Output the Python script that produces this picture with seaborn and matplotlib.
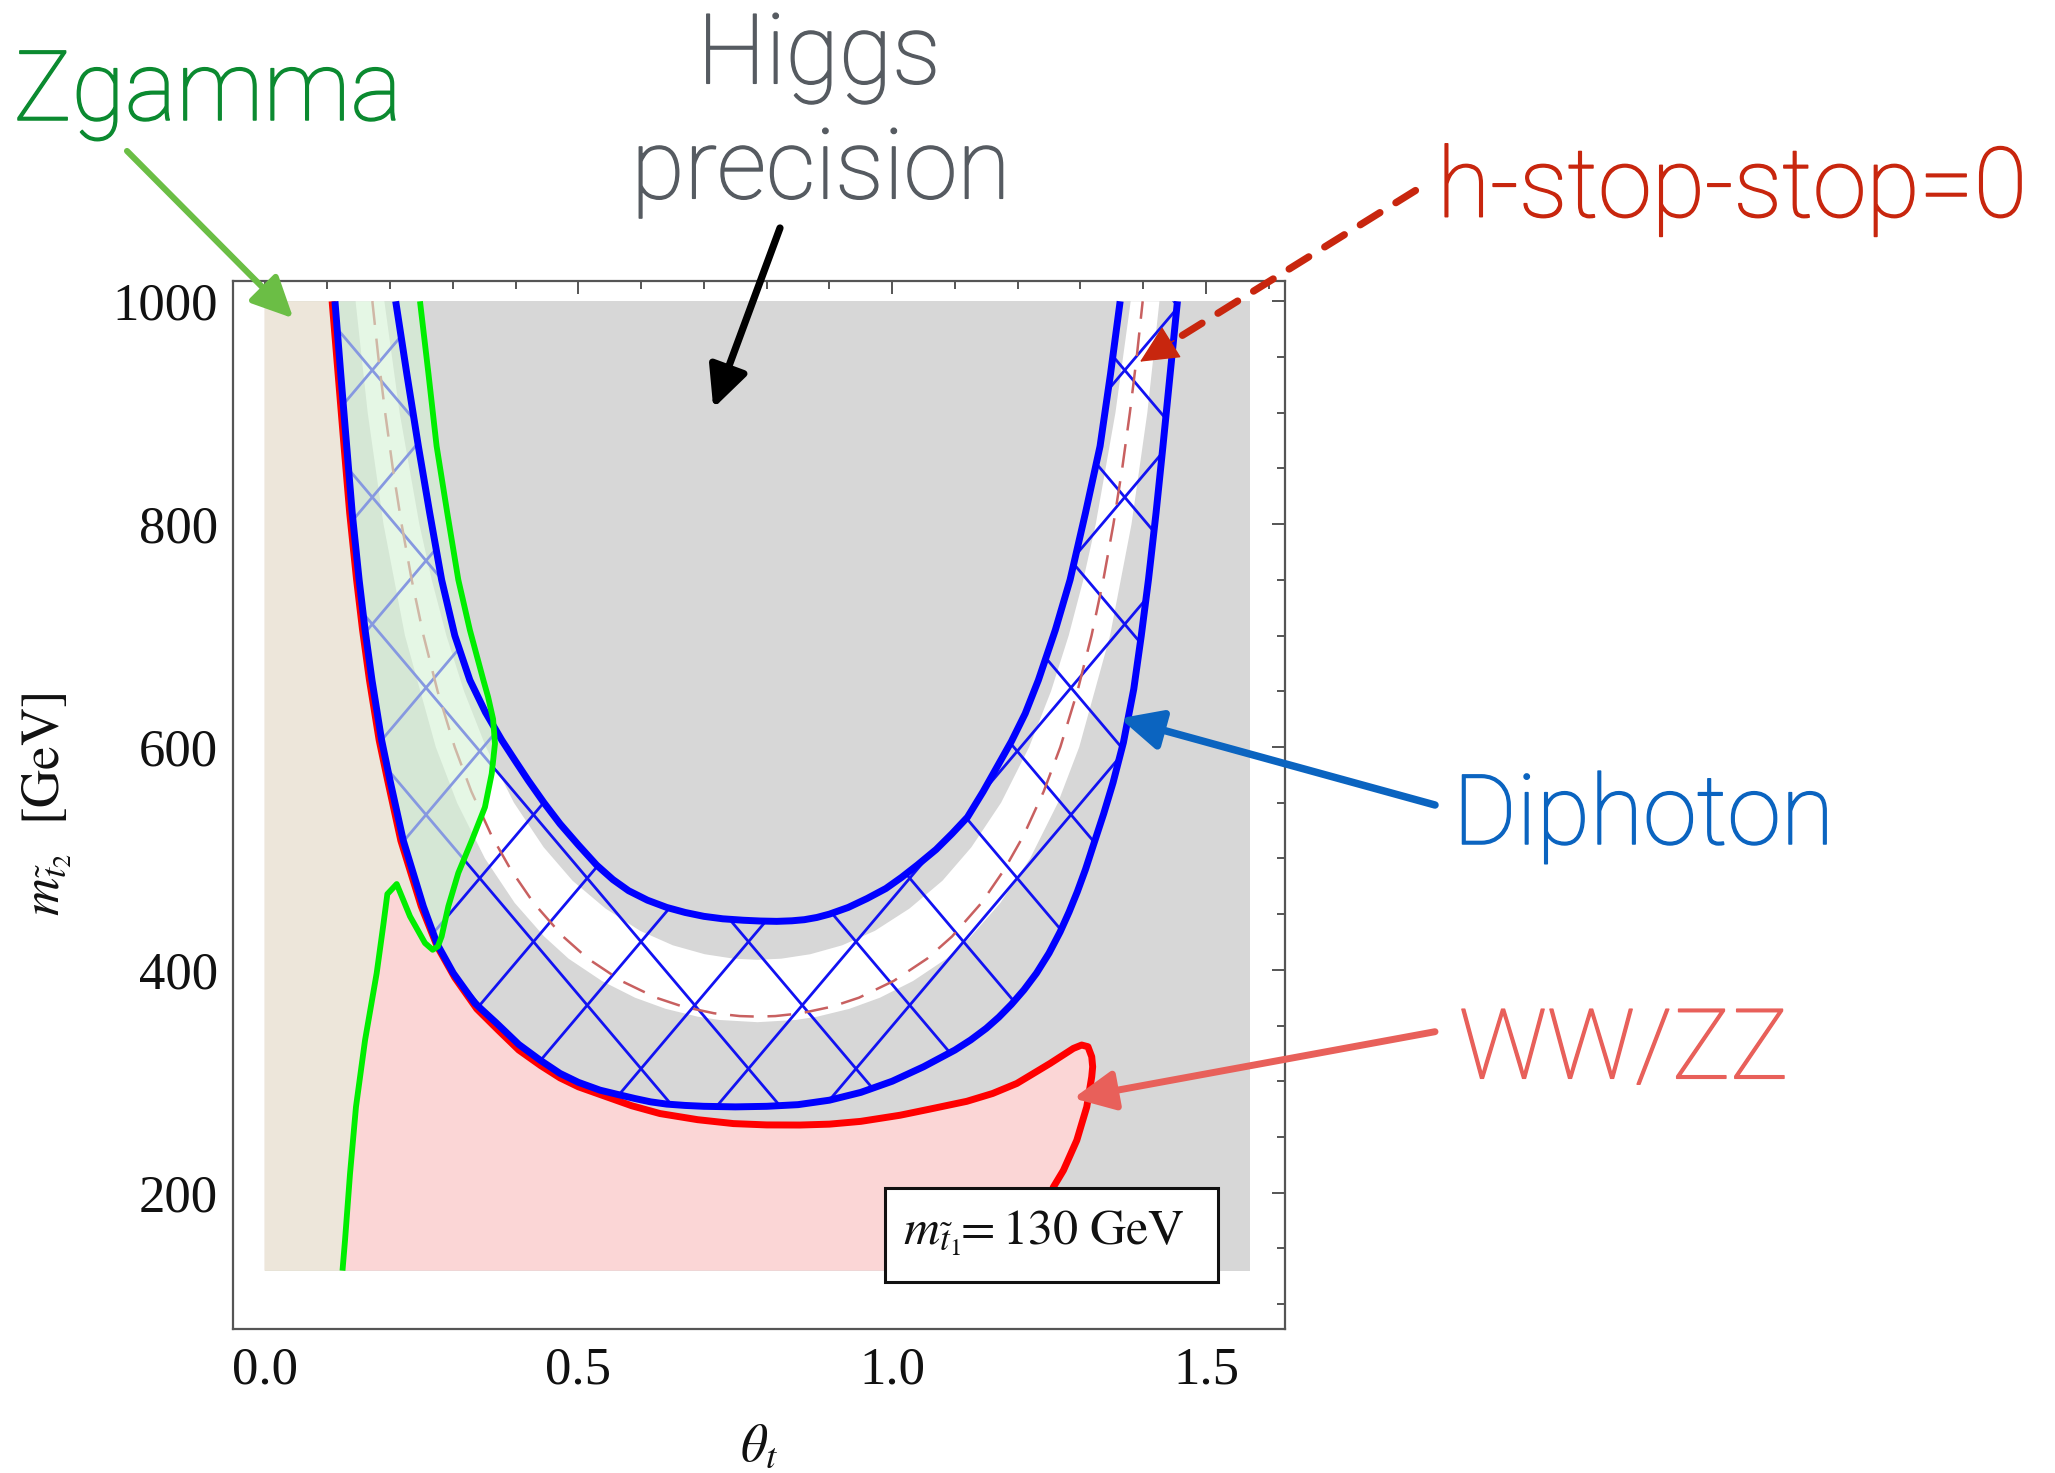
import numpy as np
import pandas as pd
import matplotlib
matplotlib.use("Agg")
import matplotlib.pyplot as plt
import matplotlib.patheffects as pe
import seaborn as sns
from matplotlib.collections import LineCollection
from matplotlib.transforms import IdentityTransform
from matplotlib.patches import Rectangle, FancyArrowPatch
from matplotlib.ticker import MultipleLocator, FixedLocator

# ---------------- data ----------------
THETA_RANGE = [0.0, 1.5708]
M_RANGE = [130, 1000]

BLUE_OUT_T = [0.112, 0.1212, 0.1307, 0.1395, 0.1505, 0.160, 0.171, 0.1864, 0.1997, 0.2209, 0.2528, 0.275,
              0.3006, 0.335, 0.3698, 0.405, 0.4388, 0.4707, 0.50, 0.5344, 0.56, 0.59, 0.615, 0.6407, 0.67,
              0.70, 0.75, 0.80, 0.85, 0.90, 0.95, 1.0, 1.05, 1.10, 1.125, 1.15, 1.17, 1.19, 1.21, 1.23,
              1.25, 1.2676, 1.282, 1.295, 1.308, 1.3207, 1.337, 1.352, 1.3685, 1.385, 1.397, 1.4084,
              1.4205, 1.4315, 1.443, 1.4546]
BLUE_OUT_M = [1000, 935, 870, 810, 750, 705, 660, 606, 570, 516, 457, 423, 397, 370, 352, 333, 319, 307,
              299, 292, 288.5, 284.5, 281.5, 279.5, 278.3, 277.5, 277, 277.5, 279, 283, 290, 300, 313, 328,
              337, 347.5, 357.5, 369, 382, 397, 415, 434, 452, 470, 490, 512, 540, 568, 604, 652, 700, 750,
              810, 870, 935, 1000]

BLUE_IN_T = [0.2088, 0.2265, 0.2449, 0.263, 0.282, 0.303, 0.327, 0.352, 0.378, 0.40, 0.42, 0.445, 0.4707,
             0.50, 0.529, 0.555, 0.58, 0.61, 0.6407, 0.67, 0.70, 0.73, 0.763, 0.79, 0.816, 0.84, 0.86,
             0.88, 0.90, 0.93, 0.96, 0.99, 1.015, 1.04, 1.07, 1.095, 1.12, 1.145, 1.17, 1.19, 1.212,
             1.233, 1.26, 1.2835, 1.308, 1.3313, 1.348, 1.3633]
BLUE_IN_M = [1000, 935, 870, 810, 750, 700, 660, 631, 606, 587, 570, 550, 531, 512, 494, 481, 471, 462.5,
             456, 451.5, 448, 445.8, 444.5, 443.8, 443.5, 444, 445, 447, 450, 456, 464, 473, 483, 494, 508,
             522, 537, 560, 585, 605, 630, 660, 705, 750, 810, 870, 935, 1000]

RED_T = [0.1075, 0.117, 0.1265, 0.1355, 0.1465, 0.156, 0.167, 0.1825, 0.196, 0.217, 0.2495, 0.275, 0.303,
         0.338, 0.372, 0.405, 0.44, 0.4707, 0.50, 0.535, 0.585, 0.63, 0.69, 0.747, 0.80, 0.853, 0.90, 0.95,
         1.0126, 1.06, 1.119, 1.16, 1.1986, 1.2517, 1.2888, 1.302, 1.312, 1.318, 1.3195, 1.318, 1.3101,
         1.2942, 1.2729, 1.2569, 1.24, 1.228, 1.218]
RED_M = [1000, 935, 870, 810, 750, 705, 660, 606, 570, 516, 457, 421, 393, 365, 346, 328, 314, 303, 295,
         288, 278, 271, 265.5, 262, 260.8, 260.7, 261.5, 264, 269.5, 275, 282, 289, 298, 316, 329.5,
         332.5, 331, 322, 313, 304, 277, 247, 220, 205, 180, 155, 130]

GREEN_T = [0.124, 0.128, 0.136, 0.1455, 0.160, 0.1785, 0.189, 0.1955, 0.2104, 0.2316, 0.2555, 0.2677,
           0.276, 0.282, 0.2927, 0.3086, 0.330, 0.351, 0.3618, 0.367, 0.364, 0.356, 0.3485, 0.327, 0.3086,
           0.291, 0.274, 0.261, 0.2475]
GREEN_M = [130, 157, 217, 277, 337, 397, 440, 468, 477, 448, 424, 418, 421, 430, 457, 487, 516, 546, 576,
           603, 625, 645, 660, 705, 750, 810, 870, 935, 1000]

DASH_T = [0.1716, 0.1811, 0.1920, 0.2042, 0.2182, 0.2343, 0.2531, 0.2756, 0.3028, 0.3294, 0.3619, 0.3921,
          0.4286, 0.4753, 0.5152, 0.5685, 0.6237, 0.6664, 0.7162, 0.7571, 0.7854, 0.8137, 0.8546, 0.9044,
          0.9471, 1.0023, 1.0556, 1.0955, 1.1422, 1.1787, 1.2089, 1.2414, 1.2680, 1.2952, 1.3177, 1.3365,
          1.3526, 1.3666, 1.3788, 1.3897, 1.3992]
DASH_M = [1000, 950, 900, 850, 800, 750, 700, 650, 600, 560, 520, 490, 460, 430, 410, 390, 375, 367, 361,
          358.5, 358, 358.5, 361, 367, 375, 390, 410, 430, 460, 490, 520, 560, 600, 650, 700, 750, 800,
          850, 900, 950, 1000]

WHITE_OUT_T = [0.1449, 0.1642, 0.1894, 0.2236, 0.2727, 0.3066, 0.3510, 0.3985, 0.4453, 0.4843, 0.5374,
               0.5902, 0.6390, 0.6898, 0.7247, 0.7854, 0.8461, 0.8810, 0.9318, 0.9806, 1.0334, 1.0865,
               1.1255, 1.1723, 1.2198, 1.2642, 1.2981, 1.3472, 1.3814, 1.4066, 1.4259]
WHITE_OUT_M = [1000, 900, 800, 700, 600, 550, 500, 460, 430, 410, 390, 375, 365, 358, 355, 353, 355, 358,
               365, 375, 390, 410, 430, 460, 500, 550, 600, 700, 800, 900, 1000]
WHITE_IN_T = [0.1907, 0.2150, 0.2464, 0.2662, 0.2895, 0.3177, 0.3525, 0.3972, 0.4446, 0.4906, 0.5432,
              0.5983, 0.6505, 0.7013, 0.7476, 0.7854, 0.8232, 0.8695, 0.9203, 0.9725, 1.0276, 1.0802,
              1.1262, 1.1736, 1.2183, 1.2531, 1.2813, 1.3046, 1.3244, 1.3558, 1.3801]
WHITE_IN_M = [1000, 900, 800, 750, 700, 650, 600, 550, 510, 480, 455, 435, 422, 414, 410, 409, 410, 414,
              422, 435, 455, 480, 510, 550, 600, 650, 700, 750, 800, 900, 1000]

X_TICKS = [0.0, 0.5, 1.0, 1.5]
X_TICK_LABELS = ["0.0", "0.5", "1.0", "1.5"]
Y_TICKS = [200, 400, 600, 800, 1000]
Y_TICK_LABELS = ["200", "400", "600", "800", "1000"]

# ---------------- style ----------------
sns.set_theme(style="white")
plt.rcParams["font.family"] = ["Liberation Serif", "DejaVu Serif"]
plt.rcParams["mathtext.fontset"] = "stix"

W, H = 2055, 1473
fig = plt.figure(figsize=(W / 100, H / 100), dpi=100)
fig.patch.set_facecolor("white")
ax = fig.add_axes([0.11353, 0.09803, 0.51177, 0.71141])
ax.set_facecolor("white")

# background regions
ax.fill_between(THETA_RANGE, M_RANGE[0], M_RANGE[1], color="#d7d7d7", lw=0, zorder=1)
ax.fill(np.r_[WHITE_OUT_T, WHITE_IN_T[::-1]], np.r_[WHITE_OUT_M, WHITE_IN_M[::-1]],
        color="white", lw=0, zorder=2)

# diphoton band (clip path for the hatch)
band = ax.fill(np.r_[BLUE_OUT_T, BLUE_IN_T[::-1]], np.r_[BLUE_OUT_M, BLUE_IN_M[::-1]],
               facecolor="none", edgecolor="none", zorder=0)[0]

# cross hatch, in pixel space
X0, Y0, P, K = 641.0, 531.3, 107.5, 1.1814
segs = []
xa, xb = 100.0, 1450.0
for n in range(-25, 25):
    xc = X0 + n * P
    segs.append([(xa, Y0 + K * (xa - xc)), (xb, Y0 + K * (xb - xc))])
    segs.append([(xa, Y0 - K * (xa - xc)), (xb, Y0 - K * (xb - xc))])
lc = LineCollection(segs, colors="#1212f2", linewidths=2.0, transform=IdentityTransform(), zorder=3)
ax.add_collection(lc, autolim=False)
lc.set_clip_path(band)

# h-stop-stop = 0 dashed
sns.lineplot(data=pd.DataFrame({"t": DASH_T, "m": DASH_M}), x="t", y="m", sort=False, estimator=None,
             color="#c86060", lw=1.8, ax=ax, zorder=3.5)
ax.lines[-1].set_dashes([9.5, 5.5])

# WW/ZZ excluded (pink)
pink = ax.fill([THETA_RANGE[0]] + RED_T + [THETA_RANGE[0]], [M_RANGE[1]] + RED_M + [M_RANGE[0]],
               color="#fbd6d6", lw=0, zorder=4)[0]

# Zgamma excluded overlay
gx = [THETA_RANGE[0]] + GREEN_T + [THETA_RANGE[0]]
gy = [M_RANGE[0]] + GREEN_M + [M_RANGE[1]]
ax.fill(gx, gy, color=(213 / 255, 243 / 255, 213 / 255), alpha=0.6, lw=0, zorder=5)
beige = ax.fill(gx, gy, color="#ede6da", lw=0, zorder=5.5)[0]
beige.set_clip_path(pink)

# boundary curves
LK = dict(x="t", y="m", sort=False, estimator=None, ax=ax, solid_joinstyle="round", solid_capstyle="butt")
sns.lineplot(data=pd.DataFrame({"t": RED_T, "m": RED_M}), color="#ff0000", lw=5.0, zorder=6, **LK)
sns.lineplot(data=pd.DataFrame({"t": BLUE_OUT_T, "m": BLUE_OUT_M}), color="#0000ff", lw=5.0, zorder=7, **LK)
sns.lineplot(data=pd.DataFrame({"t": BLUE_IN_T, "m": BLUE_IN_M}), color="#0000ff", lw=5.0, zorder=7, **LK)
sns.lineplot(data=pd.DataFrame({"t": GREEN_T, "m": GREEN_M}), color="#00ee00", lw=4.2, zorder=8, **LK)

# inset label box
ax.add_patch(Rectangle((0.9887, 119.7), 0.5302, 84.9, facecolor="white", edgecolor="#111111",
                       lw=2.2, zorder=10))
ax.text(1.0173, 153.3, r"$m_{\tilde{t}_1}\!\!= 130\ \mathrm{GeV}$", fontsize=36, ha="left",
        va="baseline", zorder=11, color="#111111")

# axes
ax.set_xlim(-0.050, 1.626)
ax.set_ylim(78.0, 1018.5)
ax.xaxis.set_major_locator(FixedLocator(X_TICKS))
ax.set_xticklabels(X_TICK_LABELS)
ax.yaxis.set_major_locator(FixedLocator(Y_TICKS))
ax.set_yticklabels(Y_TICK_LABELS)
ax.xaxis.set_minor_locator(MultipleLocator(0.1))
ax.yaxis.set_minor_locator(MultipleLocator(50))
ax.tick_params(which="both", direction="in", top=True, right=True, color="#555555", width=1.4,
               labelsize=38, labelcolor="#111111")
ax.tick_params(which="major", length=9.5)
ax.tick_params(which="minor", length=6)
ax.tick_params(axis="x", pad=13)
ax.tick_params(axis="y", pad=11)
for s in ax.spines.values():
    s.set_color("#555555")
    s.set_linewidth(1.6)
    s.set_zorder(12)

ax.set_xlabel(r"$\theta_t$", fontsize=38, color="#111111")
ax.set_ylabel(r"$m_{\tilde{t}_2}\ \ [\mathrm{GeV}]$", fontsize=38, color="#111111")
ax.xaxis.label.set_va("center")
ax.xaxis.set_label_coords(0.5, (25 - 144.4) / 1047.9)
ax.yaxis.label.set_va("center")
ax.yaxis.label.set_ha("center")
ax.yaxis.set_label_coords((47 - 233.3) / 1051.7, 0.5)


# annotation labels (light face, slightly thickened to match the reference weight)
def label(x, y, s, color, ha):
    fig.text(x / W, 1 - y / H, s, color=color, ha=ha, va="baseline", fontsize=70,
             family=["Roboto", "DejaVu Sans"], weight="light",
             path_effects=[pe.withStroke(linewidth=1.1, foreground=color)])


label(207.7, 120, "Zgamma", "#0b8a30", "center")
label(819, 83.3, "Higgs", "#565b61", "center")
label(821, 198.3, "precision", "#565b61", "center")
label(1437, 216.7, "h-stop-stop=0", "#c8260e", "left")
label(1453, 844, "Diphoton", "#0b64c0", "left")
label(1459, 1078.3, "WW/ZZ", "#e8605a", "left")


def arrow(tail, tip, color, lw, dashed=False):
    tail = np.array([tail[0], H - tail[1]], float)
    tip = np.array([tip[0], H - tip[1]], float)
    head = "-|>,head_length=25,head_width=12"
    if dashed:
        d = (tip - tail) / np.hypot(*(tip - tail))
        base = tip - d * 30
        fig.add_artist(FancyArrowPatch(tuple(tail), tuple(base), transform=IdentityTransform(),
                                       arrowstyle="-", color=color, lw=lw, linestyle=(0, (3.2, 2.6)),
                                       shrinkA=0, shrinkB=0, zorder=20))
        fig.add_artist(FancyArrowPatch(tuple(tip - d * 40), tuple(tip), transform=IdentityTransform(),
                                       arrowstyle=head, mutation_scale=1, color=color, lw=1,
                                       shrinkA=0, shrinkB=0, zorder=20))
    else:
        fig.add_artist(FancyArrowPatch(tuple(tail), tuple(tip), transform=IdentityTransform(),
                                       arrowstyle=head, mutation_scale=1, color=color, lw=lw,
                                       shrinkA=0, shrinkB=0, zorder=20))


arrow((127, 151), (293.3, 318.3), "#6bbe45", 4.4)
arrow((780, 228), (713.3, 408.3), "#000000", 5.2)
arrow((1415.5, 190.5), (1140, 361.7), "#c8260e", 5.2, dashed=True)
arrow((1435, 805), (1120, 718.3), "#0b64c0", 5.4)
arrow((1435, 1031.7), (1073.3, 1098.3), "#e8605a", 5.0)

fig.savefig("out.png", dpi=100)
